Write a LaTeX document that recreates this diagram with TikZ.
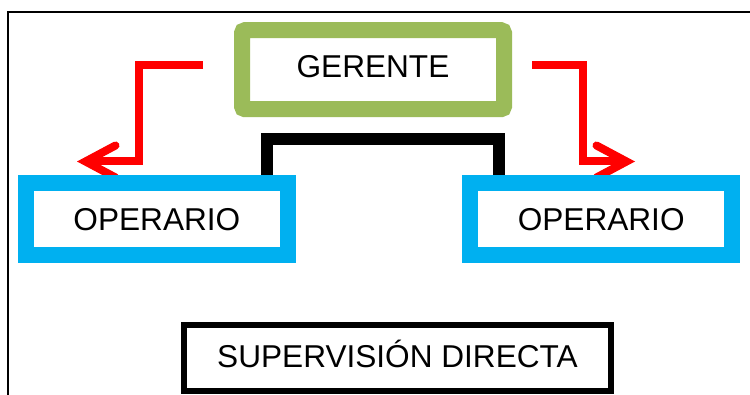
\documentclass[tikz,border=0pt]{standalone}
\usepackage{fontspec}
\setmainfont{Liberation Sans}
\usetikzlibrary{arrows.meta}
\definecolor{mgrgreen}{HTML}{9BBB59}
\definecolor{opblue}{HTML}{00B0F0}
\pgfdeclarelayer{background}
\pgfsetlayers{background,main}
\begin{document}
\begin{tikzpicture}[x=1pt,y=-1pt,
  boxtext/.style={font=\fontsize{31.6}{36}\selectfont, text height=22.6pt, inner sep=0pt, align=center},
  mgrbox/.style={boxtext, draw=mgrgreen, line width=16pt, rounded corners=3pt,
    minimum width=262pt, minimum height=79pt, fill=white, text depth=6.6pt},
  opbox/.style={boxtext, draw=opblue, line width=16pt, minimum width=261.5pt,
    minimum height=71.7pt, fill=white, text depth=0pt},
  captionbox/.style={boxtext, draw=black, line width=6pt, minimum width=427pt,
    minimum height=66pt, fill=white, text depth=3.6pt},
  link/.style={draw=black, line width=12pt, line join=miter},
  flow/.style={draw=red, line width=8pt, line join=miter,
    -{Straight Barb[length=30pt,width=32pt,line cap=round,line join=miter]}}
]
\useasboundingbox (0,0) rectangle (750,395);

% boxes
\node[mgrbox] (ger) at (373,69.7) {GERENTE};
\node[opbox] (opL) at (156.9,218.9) {OPERARIO};
\node[opbox] (opR) at (601.2,218.9) {OPERARIO};
\node[captionbox] (sup) at (397.5,358.3) {SUPERVISIÓN DIRECTA};

% free ends and bends of the red arrows
\coordinate (lstart) at (203,65);
\coordinate (lbend) at (139,161.5);
\coordinate (ltip) at (77,161.5);
\coordinate (rstart) at (532,65);
\coordinate (rbend) at (583.3,161.5);
\coordinate (rtip) at (635,161.5);

\begin{pgfonlayer}{background}
  \fill[white] (0,0) rectangle (750,395);
  % page frame: left and top rules
  \draw[line width=1.3pt] (8,395) -- (8,12) -- (750,12);
  % link between the two operators
  \draw[link] ([xshift=110.1pt]opL.north) -- ++(0,-36) -| ([xshift=-102.2pt]opR.north);
  % red flow arrows
  \draw[flow] (lstart) -| (lbend) -- (ltip);
  \draw[flow] (rstart) -| (rbend) -- (rtip);
\end{pgfonlayer}
\end{tikzpicture}
\end{document}
